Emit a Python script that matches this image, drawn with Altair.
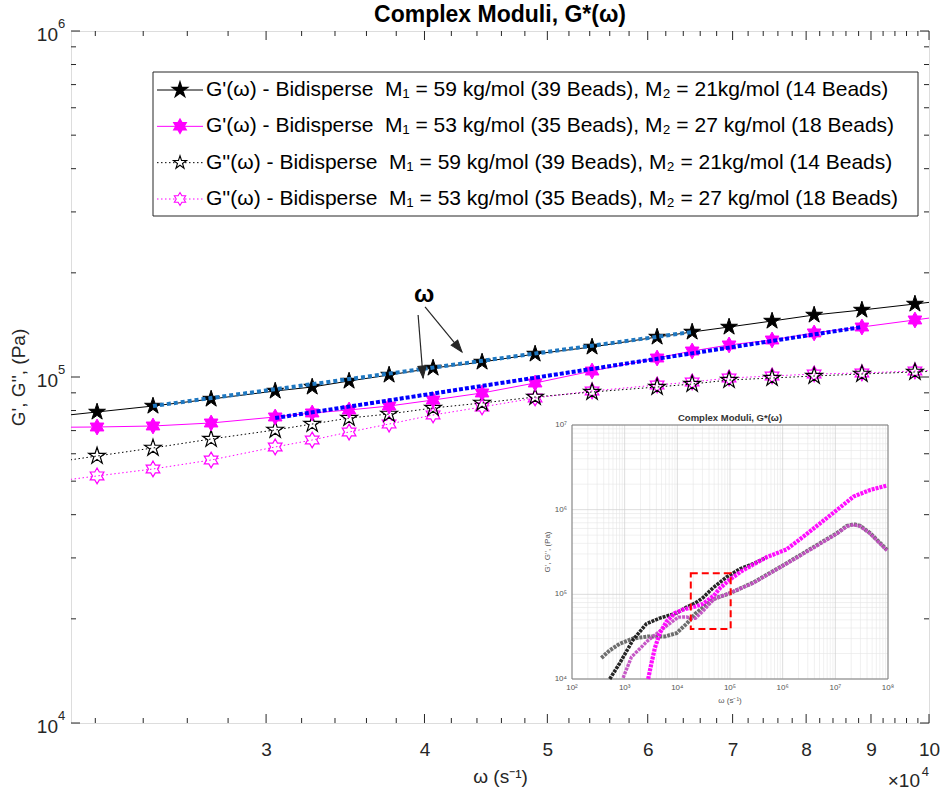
import math
import pandas as pd
import altair as alt

FONT = "Liberation Sans"
INK = "#262626"
W, H = 858, 692

# ---------------- main panel data ----------------
omega = [20000, 22070, 24430, 27150, 30500, 32620, 34880, 37510, 40630, 44410,
         48900, 54230, 61030, 65040, 69550, 75200, 81170, 88530, 97480, 107000]
g1_59 = [76250, 79230, 82440, 86360, 91110, 93560, 97370, 101340, 106170, 110500,
         116560, 122130, 130500, 134930, 139480, 145150, 151080, 156180, 162550, 169100]
g1_53 = [71500, 71700, 72180, 73630, 76640, 78710, 80290, 82440, 85800, 89910,
         96090, 104070, 113470, 118880, 123760, 127930, 134070, 139480, 146150, 153000]
g2_59 = [56100, 59110, 62350, 66190, 70290, 73130, 76110, 78180, 81360, 84120,
         87550, 90500, 93560, 95450, 98020, 99340, 100670, 102020, 103390, 104800]
g2_53 = [49400, 51760, 54220, 57560, 62770, 65750, 69340, 73130, 77670, 81900,
         86980, 91110, 94820, 96720, 99340, 100670, 102020, 102700, 104070, 105000]

fit1_x = [24430, 65040]
fit1_y = [82440, 134930]
fit2_x = [30500, 88530]
fit2_y = [76110, 139480]

# annotation "ω" and its two arrows
omega_lbl_x = [39970]
omega_lbl_y = [172600]
arrow_x_from = [39540, 40040]
arrow_y_from = [151100, 159370]
arrow_x_to = [39900, 42820]
arrow_y_to = [99340, 118110]
arrow_angle = [175, 141]

title_text = "Complex Moduli, G*(\u03c9)"
legend_labels = [
    "G'(\u03c9) - Bidisperse\u00a0 M\u2081 = 59 kg/mol (39 Beads), M\u2082 = 21kg/mol (14 Beads)",
    "G'(\u03c9) - Bidisperse\u00a0 M\u2081 = 53 kg/mol (35 Beads), M\u2082 = 27 kg/mol (18 Beads)",
    "G''(\u03c9) - Bidisperse\u00a0 M\u2081 = 59 kg/mol (39 Beads), M\u2082 = 21kg/mol (14 Beads)",
    "G''(\u03c9) - Bidisperse\u00a0 M\u2081 = 53 kg/mol (35 Beads), M\u2082 = 27 kg/mol (18 Beads)",
]

x_major = [30000, 40000, 50000, 60000, 70000, 80000, 90000, 100000]
x_minor = [22000, 24000, 26000, 28000, 32000, 34000, 36000, 38000, 42000, 44000,
           46000, 48000, 52000, 54000, 56000, 58000, 62000, 64000, 66000, 68000,
           72000, 74000, 76000, 78000, 82000, 84000, 86000, 88000, 92000, 94000,
           96000, 98000]
y_major = [1e4, 1e5, 1e6]
y_major_base = ["10", "10", "10"]
y_major_exp = ["4", "5", "6"]
y_minor = [2e4, 3e4, 4e4, 5e4, 6e4, 7e4, 8e4, 9e4, 2e5, 3e5, 4e5, 5e5, 6e5, 7e5, 8e5, 9e5]

# ---------------- inset data ----------------
in_g1_59_x = [521, 807, 1445, 2594, 4656, 9660, 14960, 22000, 30500, 48100, 86300, 155000, 277000, 500000]
in_g1_59_y = [1.0e4, 1.54e4, 2.91e4, 4.49e4, 5.24e4, 6.0e4, 7.06e4, 7.9e4, 9.1e4, 1.2e5, 1.6e5, 2.0e5, 2.3e5, 2.75e5]
in_g1_53_x = [2790, 3230, 3740, 4650, 6240, 8980, 12900, 22000, 30500, 48900, 65000, 1.0e5, 1.6e5,
              2.77e5, 5e5, 1.19e6, 2.47e6, 5.14e6, 1.07e7, 2.22e7, 4.6e7, 9.5e7]
in_g1_53_y = [1.0e4, 1.54e4, 2.32e4, 3.48e4, 4.78e4, 6.0e4, 6.6e4, 7.2e4, 7.7e4, 9.6e4, 1.19e5, 1.5e5, 1.85e5,
              2.25e5, 2.75e5, 3.4e5, 4.8e5, 6.9e5, 9.9e5, 1.43e6, 1.71e6, 1.92e6]
in_g2_59_x = [361, 521, 807, 1445, 2790, 5800, 9660, 15000, 22000, 48100, 1.0e5, 2.77e5, 1.19e6,
              5.14e6, 1.07e7, 1.66e7, 2.22e7, 2.97e7, 4.6e7, 7.13e7, 9.55e7]
in_g2_59_y = [1.77e4, 2.18e4, 2.61e4, 3.01e4, 3.18e4, 3.18e4, 3.48e4, 4.49e4, 5.9e4, 8.8e4, 1.03e5, 1.38e5,
              2.33e5, 4.02e5, 5.27e5, 6.44e5, 6.73e5, 6.44e5, 5.27e5, 4.02e5, 3.35e5]
in_g2_53_x = [933, 1346, 2790, 5800, 10400, 15000, 18600, 22000, 30500, 48900, 1.0e5, 2.77e5, 1.19e6,
              5.14e6, 1.07e7, 1.66e7, 2.22e7, 2.97e7, 4.6e7, 7.13e7, 9.55e7]
in_g2_53_y = [1.03e4, 1.82e4, 2.86e4, 4.1e4, 5.38e4, 5.4e4, 5.2e4, 5.2e4, 6.3e4, 8.7e4, 1.04e5, 1.36e5,
              2.3e5, 3.95e5, 5.2e5, 6.35e5, 6.65e5, 6.35e5, 5.2e5, 3.95e5, 3.3e5]
zoom_box_x = [18000, 103000]
zoom_box_y = [39000, 178000]
in_x_ticks = [1e2, 1e3, 1e4, 1e5, 1e6, 1e7, 1e8]
in_x_labels = ["10\u00b2", "10\u00b3", "10\u2074", "10\u2075", "10\u2076", "10\u2077", "10\u2078"]
in_y_ticks = [1e4, 1e5, 1e6, 1e7]
in_y_labels = ["10\u2074", "10\u2075", "10\u2076", "10\u2077"]


# ---------------- marker shapes ----------------
def star_path(n, r_in):
    pts = []
    for k in range(2 * n):
        a = math.pi * k / n - math.pi / 2
        r = 1.0 if k % 2 == 0 else r_in
        pts.append(f"{r * math.cos(a):.4f},{r * math.sin(a):.4f}")
    return "M" + "L".join(pts) + "Z"


PENTA = star_path(5, 0.382)
HEXA = star_path(6, 0.577)
ARROW_HEAD = "M0,0L-0.7,2L0.7,2Z"

# ---------------- main scales / axes ----------------
sx = alt.Scale(type="log", domain=[21050, 100000], nice=False)
sy = alt.Scale(type="log", domain=[1e4, 1e6], nice=False)
ax_x = alt.Axis(values=x_major, labelExpr="round(datum.value/10000)", ticks=False, domain=False,
                grid=False, labelFont=FONT, labelFontSize=19, labelColor=INK, labelPadding=17,
                labelFlush=False, labelOverlap=False,
                title="\u03c9 (s\u207b\u00b9)", titleFont=FONT, titleFontSize=19, titleFontWeight="normal",
                titleColor=INK, titleY=53, titleBaseline="middle")
ax_y = alt.Axis(values=y_major, labels=False, ticks=False, domain=False, grid=False,
                title="G', G'', (Pa)", titleFont=FONT, titleFontSize=19, titleFontWeight="normal",
                titleColor=INK, titleX=-53, titleY=H / 2, titleBaseline="middle", titleAngle=270)
X = alt.X("x:Q", scale=sx, axis=ax_x)
Y = alt.Y("y:Q", scale=sy, axis=ax_y)

layers = []

# inward ticks on all four sides
xt_major = pd.DataFrame({"x": x_major})
xt_minor = pd.DataFrame({"x": x_minor})
yt_major = pd.DataFrame({"y": y_major})
yt_minor = pd.DataFrame({"y": y_minor})
for df, L in [(xt_major, 9), (xt_minor, 5)]:
    layers.append(alt.Chart(df).mark_rule(color=INK, strokeWidth=1).encode(
        x=X, y=alt.value(H), y2=alt.value(H - L)))
    layers.append(alt.Chart(df).mark_rule(color=INK, strokeWidth=1).encode(
        x=X, y=alt.value(0), y2=alt.value(L)))
for df, L in [(yt_major, 9), (yt_minor, 5)]:
    layers.append(alt.Chart(df).mark_rule(color=INK, strokeWidth=1).encode(
        y=Y, x=alt.value(0), x2=alt.value(L)))
    layers.append(alt.Chart(df).mark_rule(color=INK, strokeWidth=1).encode(
        y=Y, x=alt.value(W), x2=alt.value(W - L)))

# y tick labels "10" with a raised exponent
ylab = pd.DataFrame({"y": y_major, "b": y_major_base, "e": y_major_exp})
layers.append(alt.Chart(ylab).mark_text(font=FONT, fontSize=19, color=INK, align="right",
                                        baseline="middle", dy=4).encode(
    x=alt.value(-13), y=Y, text="b:N"))
layers.append(alt.Chart(ylab).mark_text(font=FONT, fontSize=13, color=INK, align="left",
                                        baseline="middle", dy=-7).encode(
    x=alt.value(-13), y=Y, text="e:N"))

series = [
    (g2_53, "#ff00ff", [1.5, 2.5], HEXA, False, 250),
    (g2_59, "#000000", [1.5, 2.5], PENTA, False, 310),
    (g1_53, "#ff00ff", None, HEXA, True, 250),
    (g1_59, "#000000", None, PENTA, True, 310),
]
for vals, col, dash, shape, filled, size in series:
    df = pd.DataFrame({"x": omega, "y": vals})
    lkw = dict(color=col, strokeWidth=1, clip=True)
    if dash:
        lkw["strokeDash"] = dash
    layers.append(alt.Chart(df).mark_line(**lkw).encode(x=X, y=Y))
    if filled:
        pm = alt.Chart(df).mark_point(shape=shape, size=size, fill=col, stroke=col, strokeWidth=1,
                                      fillOpacity=1, opacity=1, clip=True)
    else:
        pm = alt.Chart(df).mark_point(shape=shape, size=size, color=col, filled=False, strokeWidth=1.2,
                                      opacity=1, clip=True)
    layers.append(pm.encode(x=X, y=Y))

# fitted power-law lines
layers.append(alt.Chart(pd.DataFrame({"x": fit1_x, "y": fit1_y})).mark_line(
    color="#1f78c1", strokeWidth=4, strokeDash=[4, 3]).encode(x=X, y=Y))
layers.append(alt.Chart(pd.DataFrame({"x": fit2_x, "y": fit2_y})).mark_line(
    color="#0000FF", strokeWidth=4, strokeDash=[4, 2]).encode(x=X, y=Y))

# annotation
arr = pd.DataFrame({"x": arrow_x_from, "y": arrow_y_from, "x2": arrow_x_to, "y2": arrow_y_to})
layers.append(alt.Chart(arr).mark_rule(color=INK, strokeWidth=1.2).encode(
    x=X, y=Y, x2="x2:Q", y2="y2:Q"))
head = pd.DataFrame({"x": arrow_x_to, "y": arrow_y_to, "a": arrow_angle})
layers.append(alt.Chart(head).mark_point(shape=ARROW_HEAD, size=144, fill=INK, stroke=INK,
                                         strokeWidth=1, fillOpacity=1, opacity=1).encode(
    x=X, y=Y, angle=alt.Angle("a:Q", scale=None)))
layers.append(alt.Chart(pd.DataFrame({"x": omega_lbl_x, "y": omega_lbl_y, "t": ["\u03c9"]})).mark_text(
    font=FONT, fontSize=24, fontWeight="bold", color="#000000", baseline="middle").encode(
    x=X, y=Y, text="t:N"))

# "×10^4" exponent label of the x axis
layers.append(alt.Chart(pd.DataFrame({"t": ["\u00d710"]})).mark_text(
    font=FONT, fontSize=19, color=INK, align="right", baseline="middle", dy=5).encode(
    x=alt.value(W - 9), y=alt.value(H + 53), text="t:N"))
layers.append(alt.Chart(pd.DataFrame({"t": ["4"]})).mark_text(
    font=FONT, fontSize=13, color=INK, align="right", baseline="middle", dy=-4).encode(
    x=alt.value(W), y=alt.value(H + 53), text="t:N"))

# chart title
layers.append(alt.Chart(pd.DataFrame({"t": [title_text]})).mark_text(
    font=FONT, fontSize=23, fontWeight="bold", color="#000000", align="center", baseline="middle").encode(
    x=alt.value(W / 2), y=alt.value(-16), text="t:N"))

main = alt.layer(*layers)

# ---------------- inset ----------------
isx = alt.Scale(type="log", domain=[1e2, 1e8], nice=False, range=[501, 817])
isy = alt.Scale(type="log", domain=[1e4, 1e7], nice=False, range=[648, 394])
IX = alt.X("ix:Q", scale=isx, axis=None)
IY = alt.Y("iy:Q", scale=isy, axis=None)

grid_x_minor = [m * 10 ** k for k in range(2, 8) for m in range(2, 10)]
grid_y_minor = [m * 10 ** k for k in range(4, 7) for m in range(2, 10)]
ilayers = []
gxm = pd.DataFrame({"ix": grid_x_minor, "iy": 1e4, "iy2": 1e7})
gym = pd.DataFrame({"iy": grid_y_minor, "ix": 1e2, "ix2": 1e8})
gxM = pd.DataFrame({"ix": in_x_ticks, "iy": 1e4, "iy2": 1e7})
gyM = pd.DataFrame({"iy": in_y_ticks, "ix": 1e2, "ix2": 1e8})
ilayers.append(alt.Chart(gxm).mark_rule(color="#e6e6e6", strokeWidth=0.6).encode(x=IX, y=IY, y2="iy2:Q"))
ilayers.append(alt.Chart(gym).mark_rule(color="#e6e6e6", strokeWidth=0.6).encode(y=IY, x=IX, x2="ix2:Q"))
ilayers.append(alt.Chart(gxM).mark_rule(color="#cfcfcf", strokeWidth=0.7).encode(x=IX, y=IY, y2="iy2:Q"))
ilayers.append(alt.Chart(gyM).mark_rule(color="#cfcfcf", strokeWidth=0.7).encode(y=IY, x=IX, x2="ix2:Q"))
ilayers.append(alt.Chart(pd.DataFrame({"ix": [1e2], "ix2": [1e8], "iy": [1e4], "iy2": [1e7]})).mark_rect(
    filled=False, stroke="#808080", strokeWidth=1).encode(x=IX, x2="ix2:Q", y=IY, y2="iy2:Q"))

for xs, ys, col, w in [(in_g2_59_x, in_g2_59_y, "#666666", 4.0),
                       (in_g2_53_x, in_g2_53_y, "#c34fc3", 3.4),
                       (in_g1_59_x, in_g1_59_y, "#1a1a1a", 3.6),
                       (in_g1_53_x, in_g1_53_y, "#ff00ff", 4.2)]:
    ilayers.append(alt.Chart(pd.DataFrame({"ix": xs, "iy": ys})).mark_line(
        color=col, strokeWidth=w, opacity=0.95, strokeDash=[3, 1]).encode(x=IX, y=IY))

ilayers.append(alt.Chart(pd.DataFrame({"ix": [zoom_box_x[0]], "ix2": [zoom_box_x[1]],
                                       "iy": [zoom_box_y[0]], "iy2": [zoom_box_y[1]]})).mark_rect(
    filled=False, stroke="#ff0000", strokeWidth=2, strokeDash=[7, 4]).encode(
    x=IX, x2="ix2:Q", y=IY, y2="iy2:Q"))

ilayers.append(alt.Chart(pd.DataFrame({"ix": in_x_ticks, "iy": 1e4, "t": in_x_labels})).mark_text(
    font=FONT, fontSize=8, color="#555555", baseline="top", dy=5).encode(x=IX, y=IY, text="t:N"))
ilayers.append(alt.Chart(pd.DataFrame({"ix": 1e2, "iy": in_y_ticks, "t": in_y_labels})).mark_text(
    font=FONT, fontSize=8, color="#555555", align="right", baseline="middle", dx=-5).encode(
    x=IX, y=IY, text="t:N"))
ilayers.append(alt.Chart(pd.DataFrame({"ix": [1e5], "iy": [1e7], "t": [title_text]})).mark_text(
    font=FONT, fontSize=9.5, fontWeight="bold", color="#333333", baseline="bottom", dy=-2).encode(
    x=IX, y=IY, text="t:N"))
ilayers.append(alt.Chart(pd.DataFrame({"ix": [1e5], "iy": [1e4], "t": ["\u03c9 (s\u207b\u00b9)"]})).mark_text(
    font=FONT, fontSize=8, color="#555555", baseline="top", dy=18).encode(x=IX, y=IY, text="t:N"))
ilayers.append(alt.Chart(pd.DataFrame({"ix": [1e2], "iy": [10 ** 5.5], "t": ["G', G'', (Pa)"]})).mark_text(
    font=FONT, fontSize=8, color="#555555", angle=270, baseline="middle", dy=-24).encode(
    x=IX, y=IY, text="t:N"))

inset = alt.layer(*ilayers)

# ---------------- legend ----------------
leg = pd.DataFrame({"r": [0, 1, 2, 3], "label": legend_labels})
LY = alt.Y("r:Q", scale=alt.Scale(domain=[0, 3], range=[59, 168]), axis=None)
llayers = [alt.Chart(pd.DataFrame({"k": [0]})).mark_rect(fill="white", stroke=INK, strokeWidth=1).encode(
    x=alt.value(82), x2=alt.value(847), y=alt.value(41), y2=alt.value(185))]
styles = [("#000000", None, PENTA, True, 190), ("#ff00ff", None, HEXA, True, 170),
          ("#000000", [1.5, 2.5], PENTA, False, 190), ("#ff00ff", [1.5, 2.5], HEXA, False, 170)]
for i, (col, dash, shape, filled, size) in enumerate(styles):
    d = leg[leg.r == i]
    rkw = dict(color=col, strokeWidth=1)
    if dash:
        rkw["strokeDash"] = dash
    llayers.append(alt.Chart(d).mark_rule(**rkw).encode(x=alt.value(86), x2=alt.value(132), y=LY))
    if filled:
        pm = alt.Chart(d).mark_point(shape=shape, size=size, fill=col, stroke=col, fillOpacity=1, opacity=1)
    else:
        pm = alt.Chart(d).mark_point(shape=shape, size=size, color=col, filled=False, strokeWidth=1.1,
                                     opacity=1, fill="white", fillOpacity=1)
    llayers.append(pm.encode(x=alt.value(109), y=LY))
llayers.append(alt.Chart(leg).mark_text(font=FONT, fontSize=21, color="#000000", align="left",
                                        baseline="middle").encode(x=alt.value(135), y=LY, text="label:N"))
legend = alt.layer(*llayers)

chart = alt.layer(main, inset, legend).resolve_scale(x="independent", y="independent").properties(
    width=W, height=H,
    padding={"left": 71, "top": 31, "right": 11, "bottom": 71},
    autosize="none",
).configure_view(stroke=INK, strokeWidth=1).configure(background="white")

chart.save("out.html", embed_options={"renderer": "svg", "actions": False})
